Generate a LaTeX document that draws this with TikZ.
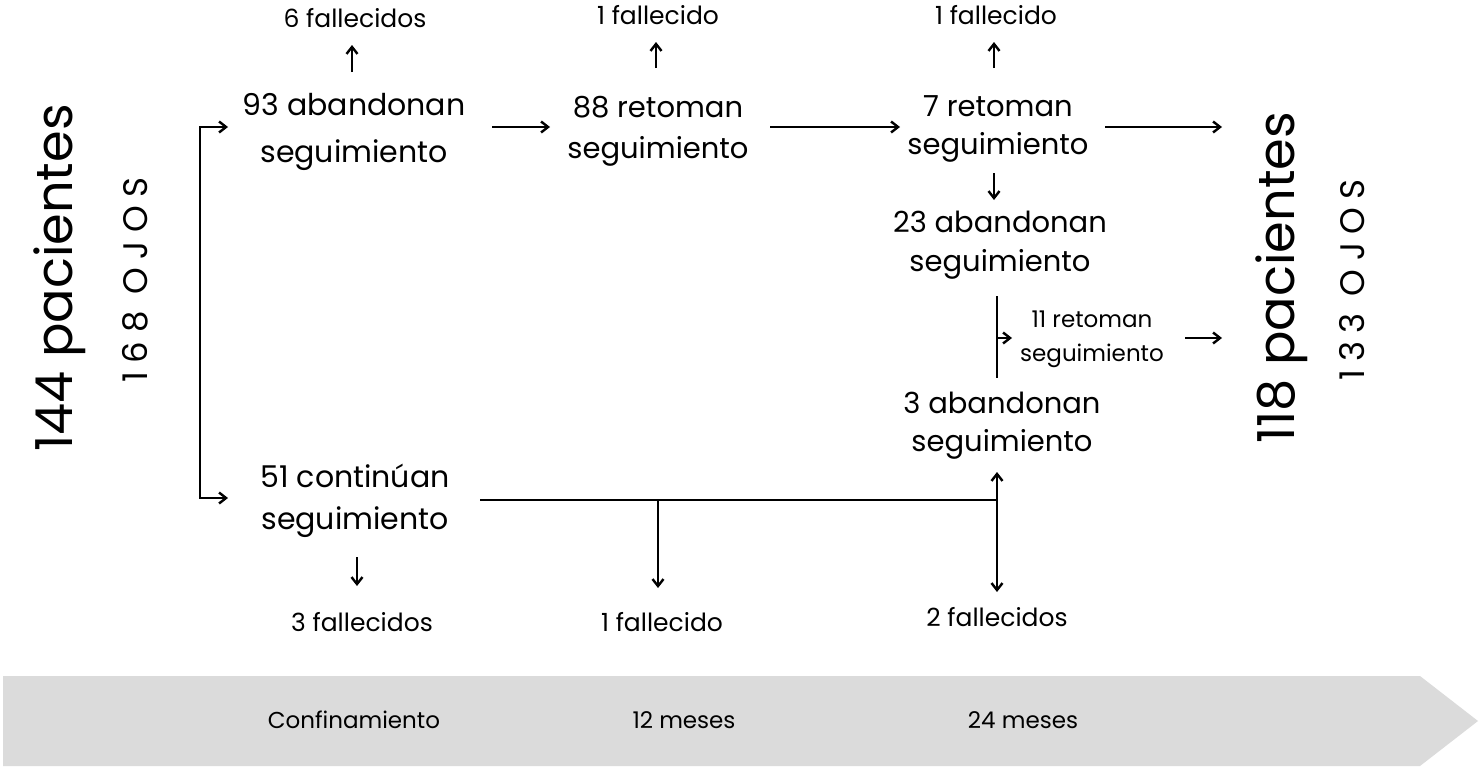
\documentclass[tikz,border=0pt]{standalone}
\usepackage{fontspec}
\setmainfont{Poppins}
\usetikzlibrary{arrows.meta}
\newcommand{\lsp}{\hspace{8.5pt}}
\begin{document}
\begin{tikzpicture}[x=1pt,y=-1pt,
  lbl/.style={align=center,font=\fontsize{30}{42}\selectfont,inner sep=0pt},
  sml/.style={align=center,font=\fontsize{25}{34}\selectfont,inner sep=0pt},
  big/.style={rotate=90,font=\fontsize{51}{60}\selectfont,inner sep=0pt},
  ojos/.style={rotate=90,font=\fontsize{34}{40}\selectfont,inner sep=0pt},
  tl/.style={font=\fontsize{23}{28}\selectfont,inner sep=0pt},
  con/.style={line width=2.4pt},
  arr/.style={con,-{Straight Barb[length=7pt,width=11pt]}}]
\useasboundingbox (0,0) rectangle (1481,771);
\fill[gray!28] (3,676) -- (1420,676) -- (1478,721) -- (1420,766) -- (3,766) -- cycle;
\node[tl] (conf) at (354,720) {Confinamiento};
\node[tl] (m12) at (684,720) {12 meses};
\node[tl] (m24) at (1023,720) {24 meses};
\node[big] (p144) at (60,278) {144 pacientes};
\node[ojos] (o168) at (135,280) {1\lsp6\lsp8\lsp\lsp O\lsp J\lsp O\lsp S};
\node[big] (p118) at (1282,278) {118 pacientes};
\node[ojos] (o133) at (1352,280) {1\lsp3\lsp3\lsp\lsp O\lsp J\lsp O\lsp S};
\node[lbl,font=\fontsize{30}{47}\selectfont] (a93) at (354,132) {93 abandonan\\seguimiento};
\node[sml] (f6) at (355,18) {6 fallecidos};
\node[lbl,font=\fontsize{29}{41}\selectfont] (r88) at (658,131) {88 retoman\\seguimiento};
\node[sml] (f1a) at (658,15) {1 fallecido};
\node[lbl,font=\fontsize{29}{38}\selectfont] (r7) at (998,129) {7 retoman\\seguimiento};
\node[sml] (f1b) at (996,15) {1 fallecido};
\node[lbl,font=\fontsize{29}{39}\selectfont] (a23) at (1000,245) {23 abandonan\\seguimiento};
\node[sml,font=\fontsize{23}{34}\selectfont] (r11) at (1092,339) {11 retoman\\seguimiento};
\node[lbl,font=\fontsize{29}{38}\selectfont] (a3) at (1002,426) {3 abandonan\\seguimiento};
\node[lbl,font=\fontsize{30}{42}\selectfont] (c51) at (355,501) {51 continúan\\seguimiento};
\node[sml] (f3) at (362,622) {3 fallecidos};
\node[sml] (f1c) at (662,622) {1 fallecido};
\node[sml] (f2) at (997,617) {2 fallecidos};
\coordinate (brt) at (200,127);
\coordinate (brb) at (200,498);
\draw[arr] (brb) -- (brt) -- (228,127);
\draw[arr] (brt) -- (brb) -- (228,498);
\draw[arr] (352,72) -- (352,45);
\draw[arr] (492,127) -- (550,127);
\draw[arr] (656,68) -- (656,42);
\draw[arr] (770,127) -- (900,127);
\draw[arr] (994,68) -- (994,42);
\draw[arr] (1105,127) -- (1222,127);
\draw[arr] (994,173) -- (994,200);
\draw[con] (997,296) -- (997,378);
\draw[arr] (997,338) -- (1012,338);
\draw[arr] (1185,338) -- (1222,338);
\draw[con] (480,500) -- (997,500);
\draw[arr] (658,500) -- (658,588);
\draw[arr] (997,500) -- (997,592);
\draw[arr] (997,500) -- (997,472);
\draw[arr] (357,557) -- (357,586);
\end{tikzpicture}
\end{document}
